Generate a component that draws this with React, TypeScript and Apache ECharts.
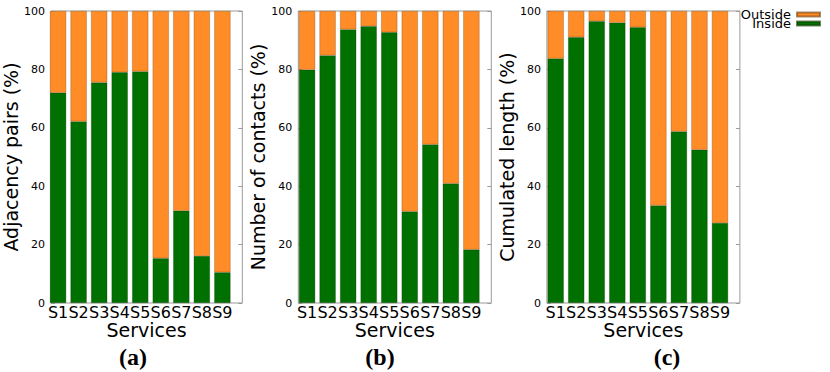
import React, { useEffect, useRef } from "react";
import * as echarts from "echarts";

const services = ["S1", "S2", "S3", "S4", "S5", "S6", "S7", "S8", "S9"];
const yTitles = ["Adjacency pairs (%)", "Number of contacts (%)", "Cumulated length (%)"];
const panelLabels = ["(a)", "(b)", "(c)"];
const insideAdjacency = [72.0, 62.2, 75.5, 79.0, 79.3, 15.3, 31.6, 16.1, 10.5];
const insideContacts = [79.9, 84.8, 93.7, 94.8, 92.7, 31.3, 54.3, 40.9, 18.3];
const insideLength = [83.7, 91.0, 96.5, 96.0, 94.4, 33.4, 58.7, 52.5, 27.4];
const yTicks = [0, 20, 40, 60, 80, 100];

const insidePanels = [insideAdjacency, insideContacts, insideLength];

const GREEN = "#007000";
const ORANGE = "#FF8C26";
const FRAME = "#9a9a9a";
const FONT = "DejaVu Sans";

export default function App() {
  const ref = useRef<HTMLDivElement>(null);
  useEffect(() => {
    if (!ref.current) return;
    const chart = echarts.init(ref.current, undefined, { renderer: "svg" });
    const frameLefts = [49.3, 298.3, 546.9];
    const labelCenters = [133, 380, 667];
    const top = 11;
    const height = 292;
    const frameWidth = 193;
    const step = 20.54;

    const grid: any[] = [];
    const xAxis: any[] = [];
    const yAxis: any[] = [];
    const series: any[] = [];
    const graphic: any[] = [];

    insidePanels.forEach((inside, p) => {
      const fl = frameLefts[p];
      grid.push({
        left: fl,
        top,
        width: frameWidth,
        height,
        show: true,
        borderColor: FRAME,
        borderWidth: 1,
        backgroundColor: "transparent",
      });
      grid.push({
        left: fl - 1.5,
        top,
        width: step * 9,
        height,
      });
      // frame x axis (name only)
      xAxis.push({
        gridIndex: 2 * p,
        type: "value",
        min: 0,
        max: 1,
        axisLine: { show: false },
        axisTick: { show: false },
        axisLabel: { show: false },
        splitLine: { show: false },
        name: "Services",
        nameLocation: "middle",
        nameGap: 17,
        nameTextStyle: { fontFamily: FONT, fontSize: 19, color: "#000", verticalAlign: "top" },
      });
      // bars x axis
      xAxis.push({
        gridIndex: 2 * p + 1,
        type: "category",
        data: services,
        axisLine: { show: false },
        axisTick: { show: false },
        axisLabel: { fontFamily: FONT, fontSize: 16, color: "#000", margin: 1, interval: 0 },
        splitLine: { show: false },
      });
      // left y axis
      yAxis.push({
        gridIndex: 2 * p,
        type: "value",
        min: 0,
        max: 100,
        interval: 20,
        position: "left",
        axisLine: { show: false },
        axisTick: { show: true, inside: true, length: 4, lineStyle: { color: FRAME } },
        axisLabel: {
          fontFamily: FONT,
          fontSize: 11,
          color: "#000",
          margin: 6,
          formatter: (v: number) => (yTicks.includes(v) ? String(v) : ""),
        },
        splitLine: { show: false },
        name: yTitles[p],
        nameLocation: "middle",
        nameGap: 21,
        nameTextStyle: { fontFamily: FONT, fontSize: 19, color: "#000" },
      });
      // right y axis (ticks only)
      yAxis.push({
        gridIndex: 2 * p,
        type: "value",
        min: 0,
        max: 100,
        interval: 20,
        position: "right",
        axisLine: { show: false },
        axisTick: { show: true, inside: true, length: 4, lineStyle: { color: FRAME } },
        axisLabel: { show: false },
        splitLine: { show: false },
      });
      // bars y axis
      yAxis.push({
        gridIndex: 2 * p + 1,
        type: "value",
        min: 0,
        max: 100,
        show: false,
        splitLine: { show: false },
      });
      const outside = inside.map((v) => +(100 - v).toFixed(1));
      series.push({
        type: "bar",
        name: "Inside",
        xAxisIndex: 2 * p + 1,
        yAxisIndex: 3 * p + 2,
        stack: "s" + p,
        data: inside,
        barWidth: 16.2,
        itemStyle: { color: GREEN, borderColor: "rgba(20,50,0,0.6)", borderWidth: 0.5 },
      });
      series.push({
        type: "bar",
        name: "Outside",
        xAxisIndex: 2 * p + 1,
        yAxisIndex: 3 * p + 2,
        stack: "s" + p,
        data: outside,
        barWidth: 16.2,
        itemStyle: { color: ORANGE, borderColor: "rgba(110,60,10,0.6)", borderWidth: 0.5 },
      });
      graphic.push({
        type: "text",
        x: labelCenters[p],
        y: 357,
        style: {
          text: panelLabels[p],
          fontFamily: "Liberation Serif",
          fontWeight: "bold",
          fontSize: 24,
          fill: "#000",
          textAlign: "center",
          textVerticalAlign: "middle",
        },
      });
    });

    chart.setOption({
      animation: false,
      grid,
      xAxis,
      yAxis,
      series,
      graphic,
      legend: [
        {
          data: ["Outside"],
          right: 9,
          top: 8,
          orient: "vertical",
          align: "right",
          icon: "rect",
          itemWidth: 23,
          itemHeight: 4,
          selectedMode: false,
          padding: 0,
          textStyle: { fontFamily: FONT, fontSize: 13, color: "#000", padding: [0, 1, 0, 0] },
        },
        {
          data: ["Inside"],
          right: 9,
          top: 17,
          orient: "vertical",
          align: "right",
          icon: "rect",
          itemWidth: 23,
          itemHeight: 4,
          selectedMode: false,
          padding: 0,
          textStyle: { fontFamily: FONT, fontSize: 13, color: "#000", padding: [0, 1, 0, 0] },
        },
      ],
    });
    return () => chart.dispose();
  }, []);
  return (
    <div
      ref={ref}
      style={{ position: "absolute", left: 0, top: 0, width: 830, height: 372, background: "#fff" }}
    />
  );
}
